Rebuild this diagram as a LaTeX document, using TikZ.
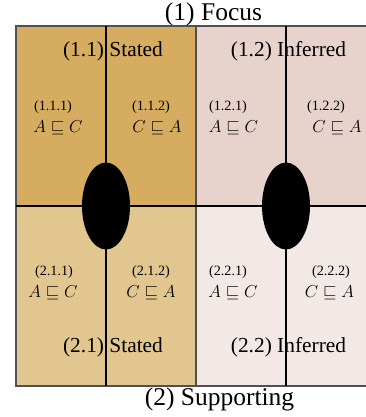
\documentclass[tikz,border=0pt]{standalone}
\usepackage{fontspec}
\setmainfont{Liberation Serif}
\definecolor{cA}{RGB}{214,172,96}
\definecolor{cB}{RGB}{232,211,204}
\definecolor{cC}{RGB}{225,199,143}
\definecolor{cD}{RGB}{242,232,229}
\definecolor{frame}{RGB}{80,80,80}
\tikzset{
  title/.style={inner sep=0pt, font=\fontsize{25.5}{28}\selectfont},
  grp/.style={inner sep=0pt, font=\fontsize{21.4}{24}\selectfont},
  small/.style={inner sep=0pt, font=\fontsize{14.2}{16}\selectfont},
  mth/.style={inner sep=0pt, font=\fontsize{18}{20}\selectfont},
  divider/.style={black, line width=1.4pt},
}
\begin{document}
\begin{tikzpicture}[x=1pt,y=-1pt]
\clip (0,0) rectangle (366,417);
\fill[cA] (16,26) rectangle (196,206);
\fill[cB] (196,26) rectangle (376,206);
\fill[cC] (16,206) rectangle (196,386);
\fill[cD] (196,206) rectangle (376,386);
\draw[frame, line width=1.6pt] (16,26) rectangle (376,386);
\draw[frame, line width=1.3pt] (196,26) -- (196,386);
\draw[divider] (106,26) -- (106,386);
\draw[divider] (286,26) -- (286,386);
\draw[divider] (16,206) -- (376,206);
\fill[black] (106,206) ellipse [x radius=24, y radius=43.5];
\fill[black] (286,206) ellipse [x radius=24, y radius=43.5];

\node[title] (focus) at (213.5,14) {(1) Focus};
\node[title] (supp) at (219.5,399) {(2) Supporting};

\node[grp] (s11) at (113,51.5) {(1.1) Stated};
\node[grp] (s12) at (288.5,51.5) {(1.2) Inferred};
\node[grp] (s21) at (113,347) {(2.1) Stated};
\node[grp] (s22) at (288.5,347) {(2.2) Inferred};

\node[small] (l111) at (53,107.5) {(1.1.1)};
\node[mth] (m111) at (58,127.5) {$A \sqsubseteq C$};
\node[small] (l112) at (151,107.5) {(1.1.2)};
\node[mth] (m112) at (157,127.5) {$C \sqsubseteq A$};
\node[small] (l121) at (228,107.5) {(1.2.1)};
\node[mth] (m121) at (233.5,127.5) {$A \sqsubseteq C$};
\node[small] (l122) at (326,107.5) {(1.2.2)};
\node[mth] (m122) at (337,127.5) {$C \sqsubseteq A$};

\node[small] (l211) at (54,272) {(2.1.1)};
\node[mth] (m211) at (53,292.5) {$A \sqsubseteq C$};
\node[small] (l212) at (151,272) {(2.1.2)};
\node[mth] (m212) at (151,292.5) {$C \sqsubseteq A$};
\node[small] (l221) at (228,272) {(2.2.1)};
\node[mth] (m221) at (233,292.5) {$A \sqsubseteq C$};
\node[small] (l222) at (331,272) {(2.2.2)};
\node[mth] (m222) at (329.5,292.5) {$C \sqsubseteq A$};
\end{tikzpicture}
\end{document}
